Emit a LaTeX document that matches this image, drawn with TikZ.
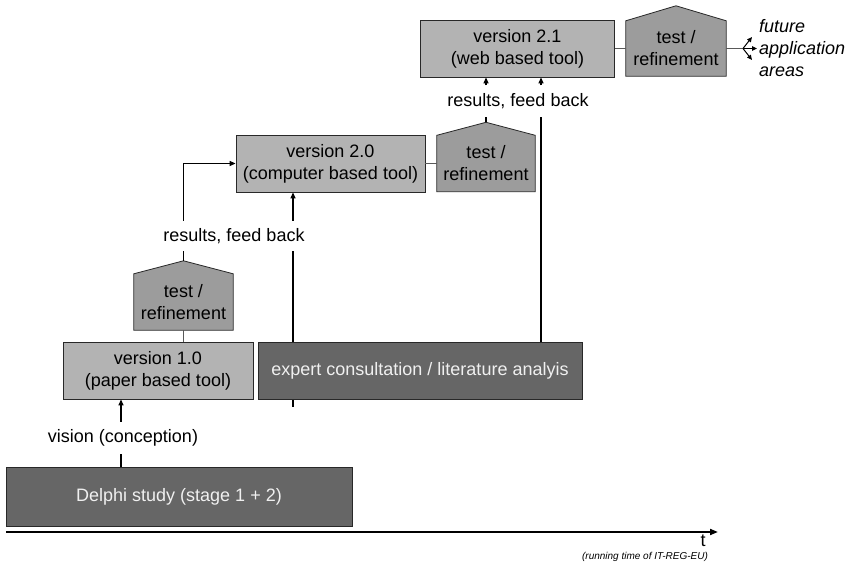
\documentclass[tikz,border=0pt]{standalone}
\usepackage{fontspec}
\setmainfont{Liberation Sans}
\usetikzlibrary{arrows.meta,calc,backgrounds}
\definecolor{boxlight}{RGB}{179,179,179}
\definecolor{boxdark}{RGB}{102,102,102}
\definecolor{pentfill}{RGB}{156,156,156}
\definecolor{edgecol}{RGB}{40,40,40}
\begin{document}
\begin{tikzpicture}[x=1pt,y=1pt,
  txt/.style={font=\fontsize{18}{22}\selectfont},
  box/.style={txt, draw=edgecol, line width=0.8pt, inner sep=0pt, minimum height=57pt, align=center},
  lightbox/.style={box, fill=boxlight},
  darkbox/.style={box, fill=boxdark, text=white!94!black},
  pentbody/.style={txt, inner sep=0pt, minimum height=56pt, align=center},
  pentline/.style={draw=edgecol, line width=0.8pt, fill=pentfill},
  lbl/.style={txt, inner sep=0pt, minimum height=31pt},
  conn/.style={line width=1.2pt, black},
  arr/.style={conn, -{Triangle[length=6pt,width=5pt]}},
  link/.style={line width=0.9pt, black!65},
  fork/.style={line width=1pt, black, -{Triangle[length=5pt,width=4.5pt]}},
  axis/.style={line width=1.8pt, black, -{Triangle[length=8pt,width=6pt]}}
]
\useasboundingbox (0,0) rectangle (851,565);

% boxes
\node[darkbox, minimum width=346pt, minimum height=59pt] (del) at (179,68.5) {Delphi study (stage 1 + 2)};
\node[lightbox, minimum width=190pt] (v1) at (158,194.5) {version 1.0\\(paper based tool)};
\node[darkbox, minimum width=324pt] (ex) at (420,194.5) {expert consultation / literature analyis};
\node[lightbox, minimum width=189pt] (v2) at (330.5,401.5) {version 2.0\\(computer based tool)};
\node[lightbox, minimum width=194pt] (v21) at (517.5,516.5) {version 2.1\\(web based tool)};

% pentagon bodies
\node[pentbody, minimum width=99pt] (p1) at (183.5,263) {test /\\refinement};
\node[pentbody, minimum width=98pt] (p2) at (486,401.5) {test /\\refinement};
\node[pentbody, minimum width=100pt, minimum height=55pt] (p3) at (676,516.5) {test /\\refinement};
\coordinate (p1peak) at ($(p1.north)+(0,13)$);
\coordinate (p2peak) at ($(p2.north)+(0,13)$);
\coordinate (p3peak) at ($(p3.north)+(0,15)$);

% labels
\node[lbl, minimum height=32pt] (vis) at (123,127) {vision (conception)};
\node[lbl, minimum height=30pt] (r1) at (234,329) {results, feed back};
\node[lbl] (r2) at (518,464) {results, feed back};
\node[txt, inner sep=0pt] (tl) at (703,24) {t};
\node[font=\fontsize{10}{12}\selectfont\itshape, inner sep=0pt] (run) at (645,8) {(running time of IT-REG-EU)};
\node[txt, font=\fontsize{18}{22}\selectfont\itshape, align=left, anchor=west, inner sep=0pt] (fut) at (759,517) {future\\application\\areas};

% helper coordinates
\coordinate (xv) at (121,0);
\coordinate (xa) at (293,0);
\coordinate (xb) at (541,0);
\coordinate (stub) at (293,158);
\coordinate (fk) at (743,516.5);
\coordinate (fu) at (752,528);
\coordinate (fr) at (757,516.5);
\coordinate (fd) at (752,505);
\coordinate (ax0) at (6,33);
\coordinate (ax1) at (718,33);

\begin{scope}[on background layer]
  \filldraw[pentline] (p1.south west) -- (p1.north west) -- (p1peak) -- (p1.north east) -- (p1.south east) -- cycle;
  \filldraw[pentline] (p2.south west) -- (p2.north west) -- (p2peak) -- (p2.north east) -- (p2.south east) -- cycle;
  \filldraw[pentline] (p3.south west) -- (p3.north west) -- (p3peak) -- (p3.north east) -- (p3.south east) -- cycle;
  \draw[conn] (stub) -- (xa |- r1.south);
\end{scope}

% connectors
\draw[conn] (del.north -| xv) -- (vis.south -| xv);
\draw[arr] (vis.north -| xv) -- (v1.south -| xv);
\draw[link] (p1.south) -- (p1.south |- v1.north);
\draw[conn] (p1peak) -- (p1peak |- r1.south);
\draw[arr] (p1peak |- r1.north) |- (v2.west);
\draw[arr] (xa |- r1.north) -- (xa |- v2.south);
\draw[link] (v2.east) -- (v2.east -| p2.west);
\draw[conn] (p2peak) -- (p2peak |- r2.south);
\draw[arr] (p2peak |- r2.north) -- (p2peak |- v21.south);
\draw[conn] (xb |- ex.north) -- (xb |- r2.south);
\draw[arr] (xb |- r2.north) -- (xb |- v21.south);
\draw[link] (v21.east) -- (v21.east -| p3.west);
\draw[link] (p3.east) -- (fk);
\draw[fork] (fk) -- (fu);
\draw[fork] (fk) -- (fr);
\draw[fork] (fk) -- (fd);
\draw[axis] (ax0) -- (ax1);
\end{tikzpicture}
\end{document}
